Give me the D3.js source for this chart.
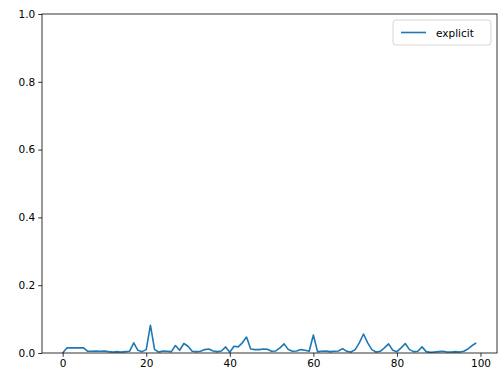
<!DOCTYPE html>
<html><head><meta charset="utf-8">
<script src="https://cdn.jsdelivr.net/npm/d3@7"></script>
<style>body{margin:0;background:#fff}svg{display:block}</style>
</head><body>
<svg id="c" width="504" height="379"></svg>
<script>
const seriesName = "explicit";
const values = [0.0,0.015,0.015,0.015,0.015,0.015,0.005,0.005,0.006,0.005,
0.006,0.004,0.003,0.004,0.003,0.004,0.005,0.03,0.008,0.004,
0.01,0.082,0.01,0.003,0.006,0.005,0.004,0.022,0.008,0.028,
0.02,0.005,0.004,0.005,0.01,0.012,0.006,0.004,0.006,0.018,
0.002,0.02,0.018,0.03,0.047,0.012,0.01,0.01,0.012,0.011,
0.005,0.006,0.015,0.027,0.01,0.005,0.006,0.01,0.008,0.005,
0.053,0.004,0.005,0.006,0.004,0.005,0.006,0.013,0.005,0.003,
0.01,0.03,0.056,0.03,0.01,0.003,0.005,0.015,0.027,0.008,
0.004,0.015,0.028,0.01,0.004,0.005,0.018,0.004,0.002,0.003,
0.004,0.005,0.003,0.003,0.004,0.003,0.005,0.012,0.022,0.03];
const xTicks = [0,20,40,60,80,100];
const yTicks = [0.0,0.2,0.4,0.6,0.8,1.0];

const L=42,R=497,T=14,B=353;
const svg=d3.select("#c");
const x=d3.scaleLinear().domain([-4.95,103.95]).range([L,R]);
const y=d3.scaleLinear().domain([0,1]).range([B,T]);
const font="DejaVu Sans";

const xa=svg.append("g").attr("transform",`translate(0,${B})`)
 .call(d3.axisBottom(x).tickValues(xTicks).tickFormat(d3.format("d")).tickSize(3.8).tickPadding(3));
const ya=svg.append("g").attr("transform",`translate(${L},0)`)
 .call(d3.axisLeft(y).tickValues(yTicks).tickFormat(d3.format(".1f")).tickSize(3.8).tickPadding(3));
[xa,ya].forEach(a=>{a.select(".domain").remove();
 a.selectAll("text").attr("font-family",font).attr("font-size",10.5).attr("fill","#000");
 a.selectAll("line").attr("stroke","#000").attr("stroke-width",0.8);});

svg.append("path").datum(values)
 .attr("fill","none").attr("stroke","#1f77b4").attr("stroke-width",1.6).attr("stroke-linejoin","round")
 .attr("d",d3.line().x((d,i)=>x(i)).y(d=>y(d)));

svg.append("rect").attr("x",L).attr("y",T).attr("width",R-L).attr("height",B-T)
 .attr("fill","none").attr("stroke","#000").attr("stroke-width",0.8);

const lg=svg.append("g");
lg.append("rect").attr("x",393).attr("y",20).attr("width",98).attr("height",25).attr("rx",3)
 .attr("fill","#fff").attr("fill-opacity",0.8).attr("stroke","#ccc").attr("stroke-width",0.8);
lg.append("line").attr("x1",401).attr("x2",426).attr("y1",32.5).attr("y2",32.5)
 .attr("stroke","#1f77b4").attr("stroke-width",1.6);
lg.append("text").attr("x",436).attr("y",36.5).text(seriesName)
 .attr("font-family",font).attr("font-size",10.5).attr("fill","#000");
</script>
</body></html>
